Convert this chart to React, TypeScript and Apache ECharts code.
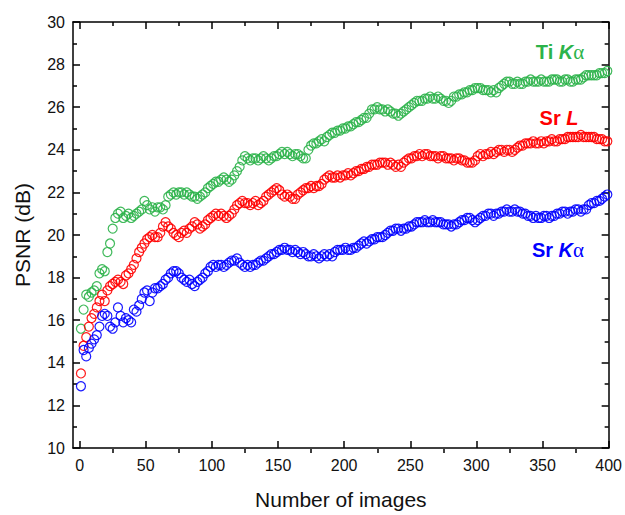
import React, { useEffect, useRef } from "react";
import * as echarts from "echarts";

// x = X_START + i * X_STEP (number of images)
const X_START = 1;
const X_STEP = 2;
const X_MIN = -5;
const X_MAX = 400;
const X_MAJOR_TICKS = [0, 50, 100, 150, 200, 250, 300, 350, 400];
const X_MINOR_TICKS = [25, 75, 125, 175, 225, 275, 325, 375];
const Y_MIN = 10;
const Y_MAX = 30;
const Y_STEP = 2;

const TI_KA = [
  15.6, 16.5, 17.2, 17.1, 17.3, 17.4, 17.6, 18.2, 18.4, 18.3,
  19.2, 19.6, 20.3, 20.8, 21.0, 21.1, 20.8, 20.9, 21.0, 20.8,
  20.9, 21.0, 21.1, 21.2, 21.6, 21.4, 21.2, 21.3, 21.1, 21.3,
  21.3, 21.2, 21.4, 21.8, 21.9, 22.0, 21.9, 22.0, 22.0, 21.9,
  22.0, 21.9, 21.8, 21.8, 21.7, 21.8, 21.9, 22.0, 22.2, 22.3,
  22.4, 22.5, 22.5, 22.6, 22.7, 22.6, 22.5, 22.6, 22.8, 23.0,
  23.2, 23.5, 23.7, 23.6, 23.5, 23.6, 23.6, 23.5, 23.6, 23.7,
  23.6, 23.5, 23.6, 23.7, 23.7, 23.8, 23.9, 23.8, 23.9, 23.8,
  23.7, 23.8, 23.8, 23.7, 23.6, 23.6, 24.0, 24.2, 24.3, 24.3,
  24.4, 24.5, 24.4, 24.6, 24.7, 24.8, 24.8, 24.9, 24.9, 25.0,
  25.0, 25.1, 25.1, 25.2, 25.3, 25.3, 25.4, 25.5, 25.5, 25.7,
  25.9, 25.9, 26.0, 25.9, 25.9, 25.8, 25.9, 25.8, 25.7, 25.7,
  25.6, 25.7, 25.8, 25.9, 26.0, 26.1, 26.2, 26.3, 26.3, 26.3,
  26.4, 26.4, 26.5, 26.4, 26.4, 26.5, 26.4, 26.3, 26.3, 26.2,
  26.3, 26.5, 26.5, 26.6, 26.6, 26.7, 26.7, 26.8, 26.8, 26.9,
  26.9, 26.9, 26.8, 26.8, 26.8, 26.7, 26.8, 26.7, 26.9, 27.0,
  27.1, 27.2, 27.2, 27.1, 27.1, 27.2, 27.1, 27.1, 27.2, 27.2,
  27.3, 27.2, 27.2, 27.2, 27.3, 27.2, 27.2, 27.2, 27.3, 27.3,
  27.3, 27.2, 27.2, 27.3, 27.3, 27.2, 27.2, 27.3, 27.3, 27.3,
  27.4, 27.5, 27.5, 27.5, 27.5, 27.5, 27.6, 27.6, 27.6, 27.7,
];

const SR_L = [
  13.5, 14.8, 15.2, 15.7, 16.1, 16.3, 16.6, 16.9, 17.2, 16.9,
  17.4, 17.6, 17.7, 17.8, 17.9, 17.8, 17.7, 18.1, 18.2, 18.4,
  18.6, 18.9, 19.2, 19.4, 19.6, 19.8, 19.9, 20.0, 19.9, 19.9,
  20.1, 20.4, 20.6, 20.4, 20.3, 20.1, 20.0, 19.9, 20.1, 20.2,
  20.1, 20.3, 20.4, 20.6, 20.5, 20.3, 20.4, 20.5, 20.7, 20.8,
  20.9, 21.0, 20.9, 21.0, 20.9, 20.8, 20.9, 21.0, 21.2, 21.4,
  21.5, 21.6, 21.5, 21.5, 21.4, 21.5, 21.6, 21.4, 21.5, 21.6,
  21.8, 21.9, 22.0, 22.1, 22.2, 22.1, 21.9, 21.8, 21.9, 21.8,
  21.7, 21.7, 21.9, 22.0, 22.1, 22.2, 22.2, 22.3, 22.2, 22.3,
  22.3, 22.4, 22.6, 22.7, 22.8, 22.7, 22.7, 22.8, 22.7, 22.8,
  22.8, 22.9, 22.8, 22.9, 23.0, 23.0, 23.1, 23.1, 23.2, 23.2,
  23.3, 23.3, 23.3, 23.4, 23.4, 23.4, 23.3, 23.4, 23.3, 23.2,
  23.3, 23.2, 23.4, 23.5, 23.6, 23.6, 23.7, 23.7, 23.8, 23.7,
  23.8, 23.8, 23.7, 23.7, 23.7, 23.6, 23.7, 23.7, 23.6, 23.6,
  23.6, 23.5, 23.6, 23.6, 23.5, 23.5, 23.4, 23.4, 23.4, 23.5,
  23.7, 23.8, 23.7, 23.8, 23.8, 23.9, 23.8, 23.9, 24.0, 24.0,
  23.9, 24.0, 24.0, 23.9, 24.0, 24.1, 24.2, 24.2, 24.3, 24.3,
  24.3, 24.4, 24.3, 24.3, 24.4, 24.3, 24.4, 24.4, 24.5, 24.4,
  24.4, 24.5, 24.5, 24.5, 24.6, 24.6, 24.6, 24.6, 24.6, 24.7,
  24.6, 24.6, 24.6, 24.6, 24.6, 24.5, 24.5, 24.5, 24.4, 24.4,
];

const SR_KA = [
  12.9, 14.6, 14.3, 14.7, 14.9, 15.1, 15.3, 15.7, 16.2, 16.3,
  16.2, 15.7, 15.6, 15.9, 16.6, 16.2, 15.9, 16.1, 16.0, 15.9,
  16.5, 16.4, 16.7, 17.0, 17.3, 17.4, 16.9, 17.3, 17.5, 17.5,
  17.6, 17.7, 17.9, 18.0, 18.2, 18.3, 18.3, 18.2, 18.0, 17.9,
  17.8, 17.9, 17.7, 17.6, 17.8, 17.9, 18.0, 18.2, 18.3, 18.5,
  18.6, 18.5, 18.6, 18.6, 18.5, 18.6, 18.7, 18.8, 18.8, 18.9,
  18.7, 18.6, 18.5, 18.6, 18.5, 18.6, 18.6, 18.7, 18.8, 18.8,
  18.9, 19.0, 19.1, 19.1, 19.2, 19.3, 19.3, 19.4, 19.3, 19.3,
  19.2, 19.3, 19.2, 19.1, 19.2, 19.1, 19.0, 19.0, 19.1, 19.0,
  18.9, 19.0, 19.1, 19.0, 19.1, 19.0, 19.2, 19.3, 19.3, 19.3,
  19.4, 19.3, 19.3, 19.4, 19.4, 19.5, 19.6, 19.7, 19.6, 19.7,
  19.8, 19.8, 19.9, 19.9, 19.9, 20.0, 20.1, 20.2, 20.2, 20.3,
  20.3, 20.2, 20.3, 20.3, 20.4, 20.4, 20.5, 20.6, 20.6, 20.6,
  20.7, 20.6, 20.6, 20.7, 20.6, 20.6, 20.6, 20.5, 20.5, 20.5,
  20.4, 20.5, 20.5, 20.6, 20.7, 20.7, 20.8, 20.8, 20.7, 20.6,
  20.7, 20.8, 20.9, 20.9, 21.0, 21.0, 20.9, 21.0, 21.0, 21.1,
  21.1, 21.2, 21.1, 21.1, 21.2, 21.1, 21.1, 21.0, 21.0, 20.9,
  20.9, 20.8, 20.9, 20.8, 20.8, 20.9, 20.9, 20.8, 20.9, 20.9,
  21.0, 21.0, 21.1, 21.1, 21.0, 21.1, 21.1, 21.2, 21.2, 21.1,
  21.2, 21.2, 21.4, 21.5, 21.5, 21.6, 21.6, 21.7, 21.8, 21.9,
];

const SERIES_NAMES = ["Ti Kα", "Sr L", "Sr Kα"];
const COLORS = ["#2cb34a", "#ff0000", "#0000ff"];

const FONT = "'Liberation Sans', Arial, Helvetica, sans-serif";
const AXIS_COLOR = "#000";

const toPairs = (ys: number[]) => ys.map((y, i) => [X_START + i * X_STEP, y]);

export default function App() {
  const ref = useRef<HTMLDivElement>(null);

  useEffect(() => {
    if (!ref.current) return;
    const chart = echarts.init(ref.current, null, { renderer: "svg" });

    const gridRect = { left: 73, right: 16, top: 22, bottom: 62 };
    const lineStyle = { color: AXIS_COLOR, width: 1.5 };

    const xBase = {
      type: "value",
      min: X_MIN,
      max: X_MAX,
      splitLine: { show: false },
      axisLine: { show: true, onZero: false, lineStyle },
    };

    const yBase = {
      type: "value",
      min: Y_MIN,
      max: Y_MAX,
      interval: Y_STEP,
      splitLine: { show: false },
      axisLine: { show: true, onZero: false, lineStyle },
      axisTick: { show: true, inside: true, length: 7, lineStyle },
      minorTick: { show: true, splitNumber: 2, length: 4, lineStyle },
    };

    const datasets = [TI_KA, SR_L, SR_KA];

    const option: any = {
      animation: false,
      backgroundColor: "#fff",
      textStyle: { fontFamily: FONT },
      grid: [
        { ...gridRect },
        { ...gridRect },
      ],
      xAxis: [
        {
          ...xBase,
          gridIndex: 0,
          position: "bottom",
          axisTick: { show: true, inside: true, length: 7, lineStyle, customValues: X_MAJOR_TICKS },
          axisLabel: {
            show: true,
            customValues: X_MAJOR_TICKS,
            fontSize: 16,
            color: "#111",
            margin: 9,
            fontFamily: FONT,
          },
          name: "Number of images",
          nameLocation: "middle",
          nameGap: 41,
          nameTextStyle: { fontSize: 21, color: "#111", fontFamily: FONT },
        },
        {
          ...xBase,
          gridIndex: 0,
          position: "top",
          axisTick: { show: true, inside: true, length: 7, lineStyle, customValues: X_MAJOR_TICKS },
          axisLabel: { show: false },
        },
        {
          ...xBase,
          gridIndex: 1,
          position: "bottom",
          axisLine: { show: false },
          axisTick: { show: true, inside: true, length: 4, lineStyle, customValues: X_MINOR_TICKS },
          axisLabel: { show: false },
        },
        {
          ...xBase,
          gridIndex: 1,
          position: "top",
          axisLine: { show: false },
          axisTick: { show: true, inside: true, length: 4, lineStyle, customValues: X_MINOR_TICKS },
          axisLabel: { show: false },
        },
      ],
      yAxis: [
        {
          ...yBase,
          gridIndex: 0,
          position: "left",
          axisLabel: { show: true, fontSize: 16, color: "#111", margin: 8, fontFamily: FONT },
          name: "PSNR (dB)",
          nameLocation: "middle",
          nameGap: 40,
          nameTextStyle: { fontSize: 21, color: "#111", fontFamily: FONT },
        },
        {
          ...yBase,
          gridIndex: 0,
          position: "right",
          axisLabel: { show: false },
        },
        { type: "value", gridIndex: 1, min: Y_MIN, max: Y_MAX, show: false },
        { type: "value", gridIndex: 1, min: Y_MIN, max: Y_MAX, show: false, position: "right" },
      ],
      series: datasets.map((ys, k) => ({
        name: SERIES_NAMES[k],
        type: "scatter",
        xAxisIndex: 0,
        yAxisIndex: 0,
        symbol: "circle",
        symbolSize: 9,
        itemStyle: {
          color: "rgba(255,255,255,0)",
          borderColor: COLORS[k],
          borderWidth: 1.2,
          opacity: 0.9,
        },
        emphasis: { disabled: true },
        data: toPairs(ys),
      })),
      graphic: [
        {
          type: "text",
          x: 560,
          y: 52,
          style: {
            text: "{n|Ti }{k|K}{a|α}",
            align: "center",
            verticalAlign: "middle",
            rich: {
              n: { fontSize: 20, fontWeight: "bold", fontFamily: FONT, fill: COLORS[0] },
              k: { fontSize: 20, fontWeight: "bold", fontStyle: "italic", fontFamily: FONT, fill: COLORS[0] },
              a: { fontSize: 21, fontFamily: "'Liberation Serif', serif", fill: COLORS[0] },
            },
          },
        },
        {
          type: "text",
          x: 559,
          y: 118,
          style: {
            text: "{n|Sr }{k|L}",
            align: "center",
            verticalAlign: "middle",
            rich: {
              n: { fontSize: 20, fontWeight: "bold", fontFamily: FONT, fill: COLORS[1] },
              k: { fontSize: 20, fontWeight: "bold", fontStyle: "italic", fontFamily: FONT, fill: COLORS[1] },
            },
          },
        },
        {
          type: "text",
          x: 558,
          y: 250,
          style: {
            text: "{n|Sr }{k|K}{a|α}",
            align: "center",
            verticalAlign: "middle",
            rich: {
              n: { fontSize: 20, fontWeight: "bold", fontFamily: FONT, fill: COLORS[2] },
              k: { fontSize: 20, fontWeight: "bold", fontStyle: "italic", fontFamily: FONT, fill: COLORS[2] },
              a: { fontSize: 21, fontFamily: "'Liberation Serif', serif", fill: COLORS[2] },
            },
          },
        },
      ],
    };

    chart.setOption(option);
    return () => chart.dispose();
  }, []);

  return (
    <div
      ref={ref}
      style={{ position: "absolute", left: 0, top: 0, width: 625, height: 515, background: "#fff" }}
    />
  );
}
